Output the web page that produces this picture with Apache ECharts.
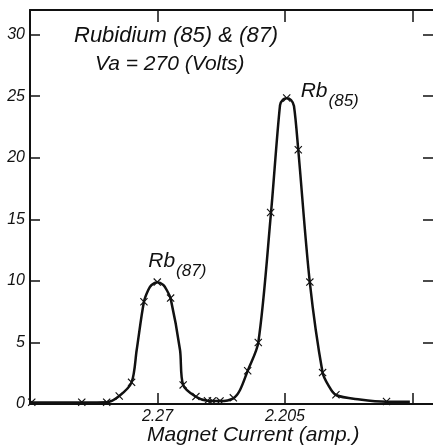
<!DOCTYPE html>
<html><head><meta charset="utf-8">
<script src="https://cdn.jsdelivr.net/npm/echarts@6/dist/echarts.min.js"></script>
<style>html,body{margin:0;padding:0;background:#fff}#c{width:433px;height:446px}</style>
</head><body><div id="c"></div>
<script>
// Measured points (magnet current, amp.) and intensity
const markerCurrent = [2.3341, 2.3086, 2.2959, 2.2895, 2.2832, 2.2769, 2.2701, 2.2633, 2.2569, 2.2504,
  2.2445, 2.2420, 2.2381, 2.2313, 2.2240, 2.2186, 2.2123, 2.2041, 2.1982, 2.1923, 2.1858, 2.1790, 2.1532];
const markerIntensity = [0.15, 0.15, 0.15, 0.65, 1.76, 8.3, 9.9, 8.6, 1.55, 0.6,
  0.27, 0.25, 0.25, 0.5, 2.7, 5.0, 15.55, 24.85, 20.65, 9.9, 2.55, 0.75, 0.2];
// Hand-drawn curve
const curveCurrent = [2.3345, 2.3086, 2.2959, 2.2895, 2.2832, 2.2806, 2.2769, 2.2747, 2.2730, 2.2701,
  2.2670, 2.2653, 2.2633, 2.2585, 2.2569, 2.2504, 2.2445, 2.2381, 2.2313, 2.2279,
  2.2240, 2.2186, 2.2121, 2.2075, 2.2060, 2.2041, 2.2019, 2.2004,
  2.1982, 2.1923, 2.1858, 2.1829, 2.1790, 2.1668, 2.1532, 2.1413];
const curveIntensity = [0.12, 0.12, 0.14, 0.65, 1.76, 4.39, 8.31, 9.26, 9.66, 9.88,
  9.66, 9.26, 8.58, 4.39, 1.54, 0.59, 0.27, 0.24, 0.46, 1.14,
  2.70, 4.98, 15.54, 24.28, 24.73, 24.83, 24.69, 24.2,
  20.63, 9.85, 2.54, 1.54, 0.73, 0.37, 0.19, 0.19];
const xTickValues = [2.27, 2.205, 2.14];
const xTickLabels = [2.27, 2.205];
const yTickValues = [5, 10, 15, 20, 25, 30];
const yTickLabels = [0, 5, 10, 15, 20, 25, 30];
const titleLines = ['Rubidium (85) & (87)', 'Va = 270 (Volts)'];
const peakLabels = [{name: 'Rb', sub: '(87)', x: 2.2701, y: 9.9}, {name: 'Rb', sub: '(85)', x: 2.2041, y: 24.85}];
const xName = 'Magnet Current (amp.)';

const font = 'Liberation Sans';
const chart = echarts.init(document.getElementById('c'), null, {renderer: 'canvas'});
const xMin = 2.1295, xMax = 2.335;
const axisCommon = {type: 'value', min: xMin, max: xMax, inverse: true, splitLine: {show: false}};
chart.setOption({
  animation: false,
  backgroundColor: '#fff',
  grid: {left: 30, right: 0, top: 10, bottom: 42, containLabel: false},
  xAxis: [
    Object.assign({}, axisCommon, {
      position: 'bottom',
      axisLine: {show: true, onZero: false, lineStyle: {color: '#111', width: 2}},
      axisTick: {show: true, inside: true, length: 11, lineStyle: {color: '#111', width: 1.5}, customValues: xTickValues},
      axisLabel: {show: true, customValues: xTickLabels, margin: 5, color: '#111', fontFamily: font, fontStyle: 'italic', fontSize: 16,
        formatter: v => String(v)}
    }),
    Object.assign({}, axisCommon, {
      position: 'top',
      axisLine: {show: true, onZero: false, lineStyle: {color: '#111', width: 2}},
      axisTick: {show: true, inside: true, length: 12, lineStyle: {color: '#111', width: 1.5}, customValues: xTickValues},
      axisLabel: {show: false}
    })
  ],
  yAxis: [
    {type: 'value', min: 0, max: 32, position: 'left', splitLine: {show: false},
      axisLine: {show: true, onZero: false, lineStyle: {color: '#111', width: 2}},
      axisTick: {show: true, inside: true, length: 10, lineStyle: {color: '#111', width: 1.5}, customValues: yTickValues},
      axisLabel: {show: true, customValues: yTickLabels, margin: 5, color: '#111', fontFamily: font, fontStyle: 'italic', fontSize: 16}
    },
    {type: 'value', min: 0, max: 32, position: 'right', splitLine: {show: false},
      axisLine: {show: false},
      axisTick: {show: true, inside: true, length: 10, lineStyle: {color: '#111', width: 1.5}, customValues: yTickValues},
      axisLabel: {show: false}
    }
  ],
  series: [
    {type: 'line', data: curveCurrent.map((c, i) => [c, curveIntensity[i]]), smooth: 0.3,
      symbol: 'none', lineStyle: {color: '#111', width: 2.5}, z: 2},
    {type: 'scatter', data: markerCurrent.map((c, i) => [c, markerIntensity[i]]),
      symbol: 'path://M0,1L1,0L5,4L9,0L10,1L6,5L10,9L9,10L5,6L1,10L0,9L4,5Z', symbolSize: 8,
      itemStyle: {color: '#111', opacity: 1}, z: 3}
  ]
});

function place() {
  const g = [];
  g.push({type: 'text', left: 74, top: 25, style: {text: titleLines[0], font: 'italic 22px ' + font, fill: '#111'}});
  g.push({type: 'text', left: 95, top: 54, style: {text: titleLines[1], font: 'italic 21px ' + font, fill: '#111'}});
  peakLabels.forEach(p => {
    const px = chart.convertToPixel({xAxisIndex: 0, yAxisIndex: 0}, [p.x, p.y]);
    const dx = p.sub === '(85)' ? 14 : -9;
    const dy = p.sub === '(85)' ? -17 : -31;
    g.push({type: 'text', x: px[0] + dx, y: px[1] + dy, style: {
      text: '{a|' + p.name + '}{b|' + p.sub + '}',
      rich: {a: {font: 'italic 21px ' + font, fill: '#111', verticalAlign: 'top'},
             b: {font: 'italic 17px ' + font, fill: '#111', padding: [12, 0, 0, 1], verticalAlign: 'bottom'}}
    }});
  });
  g.push({type: 'text', left: 147, top: 425, style: {text: xName, font: 'italic 21px ' + font, fill: '#111'}});
  chart.setOption({graphic: g});
}
place();
</script></body></html>
